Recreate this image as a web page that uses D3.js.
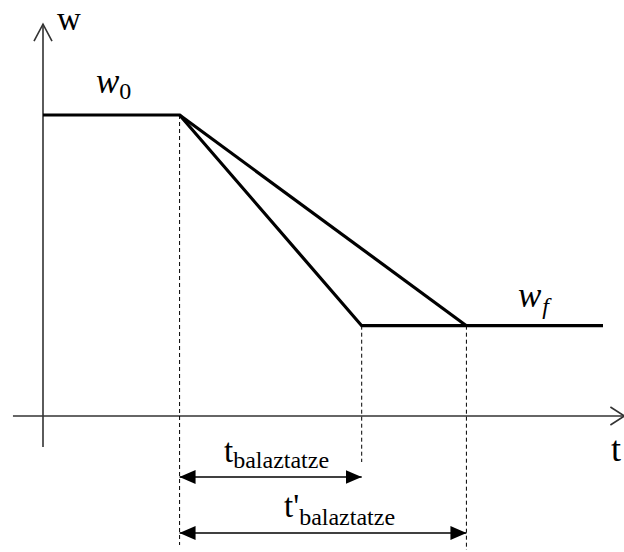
<!DOCTYPE html>
<html>
<head>
<meta charset="utf-8">
<script src="https://cdn.jsdelivr.net/npm/d3@7"></script>
<style>
  body { margin: 0; background: #fff; }
  svg { display: block; }
</style>
</head>
<body>
<svg width="624" height="552"></svg>
<script>
// time points (arbitrary units) and weight levels
const tStart = 3;          // braking starts
const tFast = 7;           // end of short braking
const tSlow = 9.3;         // end of long braking
const tEnd = 12.3;         // end of drawn line
const w0 = 1;
const wf = 0.3;

const pathFast = [[0, w0], [tStart, w0], [tFast, wf], [tEnd, wf]];
const pathSlow = [[tStart, w0], [tSlow, wf]];

const serif = "'Liberation Serif', 'DejaVu Serif', serif";

const svg = d3.select('svg');

const x = d3.scaleLinear().domain([0, tEnd]).range([43, 603]);
const y = d3.scaleLinear().domain([0, w0]).range([416, 115]);

// arrow heads
const defs = svg.append('defs');
defs.append('marker')
    .attr('id', 'head')
    .attr('viewBox', '0 0 16 14')
    .attr('refX', 16)
    .attr('refY', 7)
    .attr('markerWidth', 16)
    .attr('markerHeight', 14)
    .attr('markerUnits', 'userSpaceOnUse')
    .attr('orient', 'auto-start-reverse')
    .append('path')
    .attr('d', 'M0,0 L16,7 L0,14 Z')
    .attr('fill', '#000');

// axes
const axes = svg.append('g').attr('stroke', '#333').attr('stroke-width', 1.6).attr('fill', 'none');
axes.append('line')
    .attr('x1', x(0)).attr('x2', x(0))
    .attr('y1', y(-0.103)).attr('y2', y(1.302));
axes.append('path')
    .attr('d', `M${x(0) - 9},${y(1.302) + 17} L${x(0)},${y(1.302)} L${x(0) + 9},${y(1.302) + 17}`);
axes.append('line')
    .attr('x1', x(-0.66)).attr('x2', x(12.77))
    .attr('y1', y(0)).attr('y2', y(0));
axes.append('path')
    .attr('d', `M${x(12.77) - 14},${y(0) - 9} L${x(12.77)},${y(0)} L${x(12.77) - 14},${y(0) + 9}`);

// dashed guides
const guides = svg.append('g')
    .attr('stroke', '#000').attr('stroke-width', 1).attr('stroke-dasharray', '4,3');
guides.append('line').attr('x1', x(tStart)).attr('x2', x(tStart)).attr('y1', y(w0)).attr('y2', 545);
guides.append('line').attr('x1', x(tFast)).attr('x2', x(tFast)).attr('y1', y(wf)).attr('y2', 462);
guides.append('line').attr('x1', x(tSlow)).attr('x2', x(tSlow)).attr('y1', y(wf)).attr('y2', 550);

// weight curves
const line = d3.line().x(d => x(d[0])).y(d => y(d[1]));
svg.append('path').datum(pathFast)
    .attr('d', line).attr('fill', 'none').attr('stroke', '#000').attr('stroke-width', 3.2)
    .attr('stroke-linejoin', 'miter');
svg.append('path').datum(pathSlow)
    .attr('d', line).attr('fill', 'none').attr('stroke', '#000').attr('stroke-width', 3.2);

// duration arrows
const arrows = [[tFast, 477], [tSlow, 533]];
svg.append('g').selectAll('line').data(arrows).enter().append('line')
    .attr('x1', x(tStart)).attr('x2', d => x(d[0]))
    .attr('y1', d => d[1]).attr('y2', d => d[1])
    .attr('stroke', '#000').attr('stroke-width', 1.6)
    .attr('marker-start', 'url(#head)').attr('marker-end', 'url(#head)');

// labels
const txt = (px, py, size) => svg.append('text')
    .attr('x', px).attr('y', py)
    .attr('font-family', serif).attr('font-size', size).attr('fill', '#000');

txt(57, 30, 33).text('w');
txt(611, 461, 36).text('t');

const w0Lbl = txt(96, 93, 35).attr('font-style', 'italic');
w0Lbl.append('tspan').text('w');
w0Lbl.append('tspan').attr('font-style', 'normal').attr('font-size', 24).attr('dy', 6).text('0');

const wfLbl = txt(518, 307, 35).attr('font-style', 'italic');
wfLbl.append('tspan').text('w');
wfLbl.append('tspan').attr('font-size', 24).attr('dy', 7).attr('dx', 1).text('f');

const t1 = txt(224, 462, 33);
t1.append('tspan').text('t');
t1.append('tspan').attr('font-size', 24).attr('dy', 6).text('balaztatze');

const t2 = txt(284, 517, 33);
t2.append('tspan').text("t'");
t2.append('tspan').attr('font-size', 24).attr('dy', 8).text('balaztatze');
</script>
</body>
</html>
